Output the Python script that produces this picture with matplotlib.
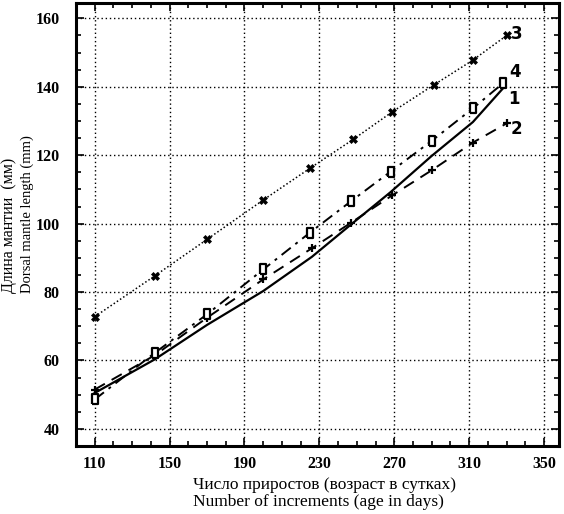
import matplotlib
matplotlib.use("Agg")
import matplotlib.pyplot as plt
from matplotlib.ticker import MultipleLocator

# Data (age in days vs dorsal mantle length, mm)
x3 = [110, 142, 170, 200, 225, 248, 269, 291, 312, 330]
y3 = [72.8, 84.7, 95.4, 106.9, 116.2, 124.6, 132.7, 140.5, 147.8, 155.0]

x1 = [110, 142, 170, 200, 226, 247, 268, 290, 312, 328]
y1 = [50.5, 60.3, 70.4, 80.3, 90.3, 99.8, 109.2, 119.8, 129.7, 139.5]

x2 = [110, 142, 170, 200, 226, 247, 269, 290, 312, 330]
y2 = [51.5, 61.5, 72.5, 83.7, 92.8, 100.3, 108.3, 115.6, 123.7, 129.3]

x4 = [110, 142, 170, 200, 225, 247, 268, 290, 312, 328]
y4 = [48.6, 62.2, 73.5, 86.6, 97.4, 106.6, 115.2, 124.2, 133.7, 141.0]

series_labels = ["1", "2", "3", "4"]
label_pos = {"3": (335.5, 155.3), "4": (334.5, 144.3), "1": (334.0, 136.5), "2": (335.5, 127.7)}
xticks = [110, 150, 190, 230, 270, 310, 350]
yticks = [40, 60, 80, 100, 120, 140, 160]

serif = ["Liberation Serif", "DejaVu Serif"]

W, H = 564, 514
fig = plt.figure(figsize=(W/100, H/100), dpi=100)
ax = fig.add_axes([76/W, 1-446/H, (559-76)/W, (446-3)/H])

rect = [(-0.55, -1), (0.55, -1), (0.55, 1), (-0.55, 1), (-0.55, -1)]

ax.plot(x3, y3, linestyle=(0, (1, 1.5)), color="black", lw=1.1,
        marker="X", markersize=6, markeredgewidth=0.5)
ax.plot(x1, y1, linestyle="-", color="black", lw=1.6)
ax.plot(x2, y2, linestyle=(0, (6, 4)), color="black", lw=1.4,
        marker="+", markersize=6, markeredgewidth=1.6)
ax.plot(x4, y4, linestyle=(0, (6, 3, 1.5, 3)), color="black", lw=1.4,
        marker=rect, markersize=7, markeredgewidth=1.6, markerfacecolor="white")

for lab in series_labels:
    px, py = label_pos[lab]
    ax.text(px, py, lab, fontsize=12, fontweight="bold",
            family=["DejaVu Sans"], va="center", ha="center")

ax.set_xlim(100, 358)
ax.set_ylim(35, 164.5)
ax.set_xticks(xticks)
ax.set_yticks(yticks)
ax.xaxis.set_minor_locator(MultipleLocator(10))
ax.yaxis.set_minor_locator(MultipleLocator(5))
ax.tick_params(which="both", direction="in", top=True, right=True, width=1.2)
ax.tick_params(which="major", length=6)
ax.tick_params(axis="x", which="major", pad=7)
ax.tick_params(axis="y", which="major", pad=12)
ax.tick_params(which="minor", length=3.5)
for lab in ax.get_xticklabels():
    lab.set_fontfamily(serif)
    lab.set_fontweight("bold")
    lab.set_fontsize(11.5)
for lab in ax.get_yticklabels():
    lab.set_fontfamily(serif)
    lab.set_fontweight("bold")
    lab.set_fontsize(11.5)

ax.grid(True, which="major", linestyle=(0, (1, 2)), color="black", lw=1.0)
for s in ax.spines.values():
    s.set_linewidth(2.2)

# axis titles
fig.text(324/W, 1-485/H, "Число приростов (возраст в сутках)", family=serif,
         fontsize=12.5, ha="center", va="center")
fig.text(318/W, 1-502/H, "Number of increments (age in days)", family=serif,
         fontsize=12.5, ha="center", va="center")
fig.text(9/W, 1-293/H, "Длина мантии  (мм)", family=serif, fontsize=11.5,
         rotation=90, ha="center", va="bottom")
fig.text(27.5/W, 1-293/H, "Dorsal mantle length (mm)", family=serif, fontsize=10.5,
         rotation=90, ha="center", va="bottom")

fig.savefig("out.png", dpi=100)
